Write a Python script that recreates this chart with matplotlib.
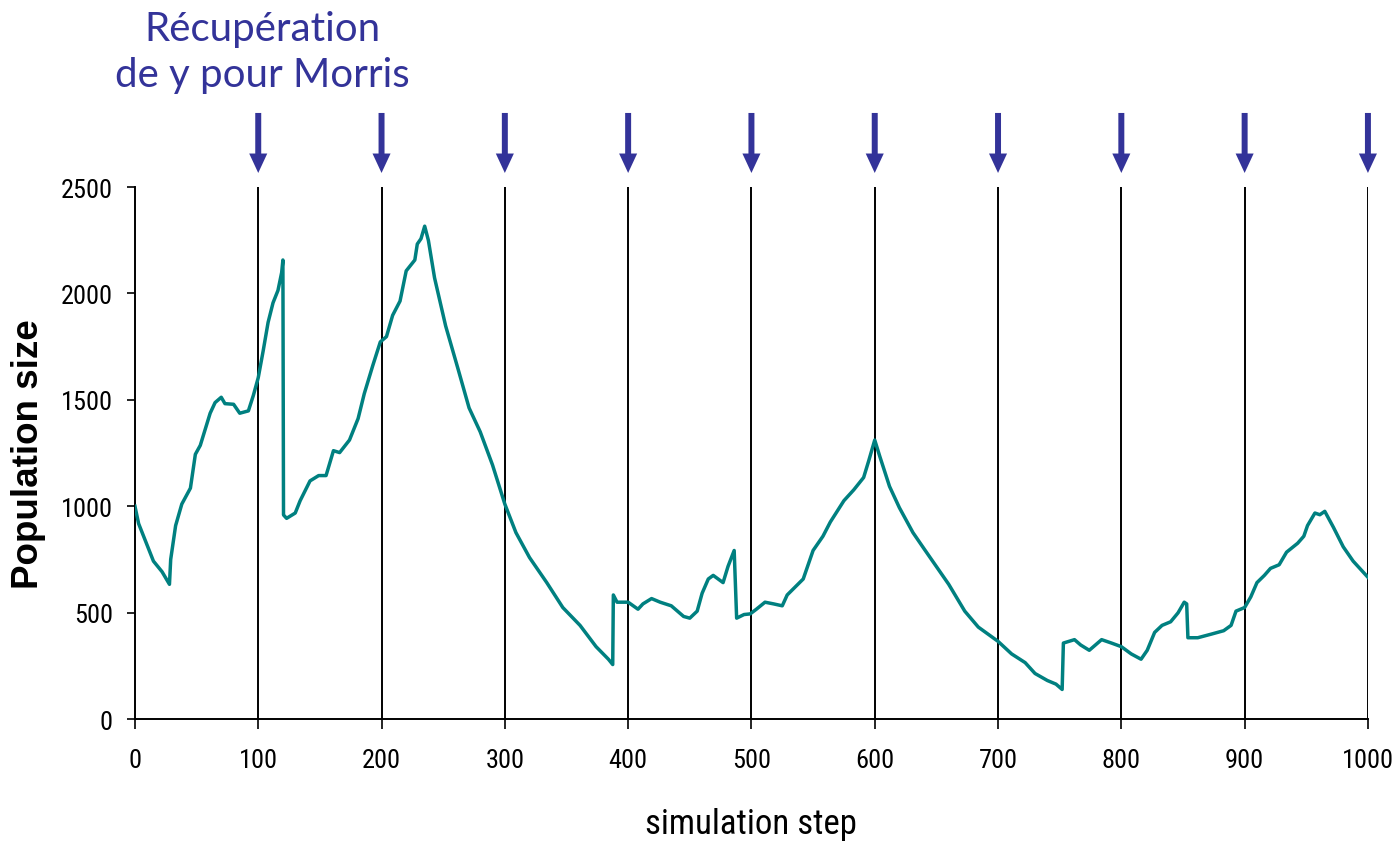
"""Population size over simulation steps, with Morris sampling points marked."""
import matplotlib

matplotlib.use("Agg")
import matplotlib.pyplot as plt
from matplotlib import font_manager

# data
steps = [0, 3, 15, 22, 28, 29, 33, 38, 45, 49, 53, 57, 61, 65, 70, 73, 80, 85, 92, 96,
         100, 104, 108, 112, 116, 119, 120, 120.5, 123, 130, 134, 142, 149, 155, 161, 166,
         174, 181, 186, 193, 199, 204, 209, 215, 220, 227, 229, 232, 235, 238, 243, 252,
         262, 271, 280, 290, 300, 309, 320, 334, 347, 361, 374, 384, 387.5, 388, 391, 400,
         408, 412, 419, 426, 435, 445, 450, 456, 460, 465, 469, 477, 481, 486, 488, 494,
         499, 504, 511, 518, 525, 529, 542, 550, 558, 564, 575, 583, 591, 595, 600, 604,
         612, 620, 631, 640, 649, 660, 673, 684, 700, 711, 722, 730, 740, 747, 752, 753,
         762, 767, 774, 784, 792, 800, 808, 816, 821, 827, 833, 840, 846, 851, 853, 854,
         862, 873, 883, 889, 893, 900, 905, 910, 916, 921, 928, 934, 943, 948, 951, 957,
         961, 965, 972, 980, 988, 1000]
population = [1000, 918, 742, 692, 633, 750, 909, 1010, 1085, 1244, 1286, 1361, 1437, 1487,
              1512, 1482, 1479, 1437, 1448, 1520, 1604, 1730, 1864, 1956, 2014, 2098, 2157,
              959, 943, 968, 1026, 1119, 1144, 1144, 1261, 1252, 1311, 1412, 1529, 1663, 1772,
              1797, 1897, 1964, 2106, 2157, 2232, 2257, 2316, 2249, 2073, 1847, 1646, 1462,
              1350, 1194, 1010, 876, 759, 641, 524, 440, 340, 281, 256, 583, 549, 549, 516,
              541, 566, 549, 532, 482, 474, 507, 591, 658, 675, 641, 717, 792, 474, 491, 494,
              516, 549, 541, 532, 583, 658, 792, 859, 926, 1026, 1077, 1135, 1211, 1311, 1236,
              1093, 993, 876, 800, 725, 633, 507, 432, 365, 306, 265, 214, 181, 164, 139, 357,
              373, 348, 323, 373, 357, 340, 306, 281, 323, 407, 440, 457, 499, 549, 541, 382,
              382, 399, 415, 440, 507, 524, 574, 641, 675, 708, 725, 784, 826, 859, 909, 968,
              960, 976, 901, 809, 742, 666]
morris_steps = [100, 200, 300, 400, 500, 600, 700, 800, 900, 1000]
x_ticks = [0, 100, 200, 300, 400, 500, 600, 700, 800, 900, 1000]
y_ticks = [0, 500, 1000, 1500, 2000, 2500]

BLUE = "#333399"
TEAL = "#008080"


def narrow_font():
    # look for an installed narrow/condensed sans, like the Arial Narrow of the original
    prefs = ["Liberation Sans Narrow", "Roboto Condensed", "DejaVu Sans", "Noto Sans",
             "Open Sans", "Inter"]
    found = {}
    for f in font_manager.fontManager.ttflist:
        narrow = ("Narrow" in f.name or "Condensed" in f.name
                  or f.stretch in ("condensed", "semi-condensed", "extra-condensed"))
        if not narrow or f.style != "normal":
            continue
        if f.weight not in (400, "normal", "regular", "book"):
            continue
        for p in prefs:
            if f.name.startswith(p) and p not in found:
                found[p] = f.fname
    for p in prefs:
        if p in found:
            return font_manager.FontProperties(fname=found[p]), True
    return font_manager.FontProperties(family="DejaVu Sans"), False


fp, is_narrow = narrow_font()
tick_size = 19 if is_narrow else 15

fig = plt.figure(figsize=(13.94, 8.45), dpi=100)
ax = fig.add_axes([0.0968, 0.1479, 0.8845, 0.6296])

for s in morris_steps:
    ax.axvline(s, color="black", lw=1.4, zorder=1)
ax.plot(steps, population, color=TEAL, lw=2.5, zorder=3)

ax.set_xlim(0, 1000)
ax.set_ylim(0, 2500)
ax.set_xticks(x_ticks)
ax.set_yticks(y_ticks)
for sp in ("top", "right"):
    ax.spines[sp].set_visible(False)
for sp in ("left", "bottom"):
    ax.spines[sp].set_linewidth(1.4)
ax.tick_params(direction="out", width=1.2)
ax.tick_params(axis="y", length=6, pad=10)
ax.tick_params(axis="x", length=7, pad=14)
for lab in ax.get_xticklabels() + ax.get_yticklabels():
    lab.set_fontproperties(fp)
    lab.set_fontsize(tick_size)

ax.set_xlabel("simulation step", fontproperties=fp)
ax.xaxis.label.set_fontsize(25 if is_narrow else 20)
ax.xaxis.set_label_coords(0.5, -0.165)
ax.set_ylabel("Population size", family=["Liberation Sans", "DejaVu Sans"],
              fontsize=26.5, fontweight="bold")
ax.yaxis.set_label_coords(-0.072, 0.5)

# arrows above the chart at each Morris sampling step
for s in morris_steps:
    ax.annotate("", xy=(s, 2566), xytext=(s, 2848), annotation_clip=False,
                arrowprops=dict(facecolor=BLUE, edgecolor=BLUE, linewidth=0, width=4.3,
                                headwidth=13, headlength=14, shrink=0))

fig.text(262 / 1394, 1 - 52 / 845, "Récupération\nde y pour Morris", color=BLUE,
         family=["Lato", "DejaVu Sans"], fontsize=29, ha="center", va="center",
         linespacing=1.3)

fig.savefig("out.png", dpi=100, facecolor="white")
